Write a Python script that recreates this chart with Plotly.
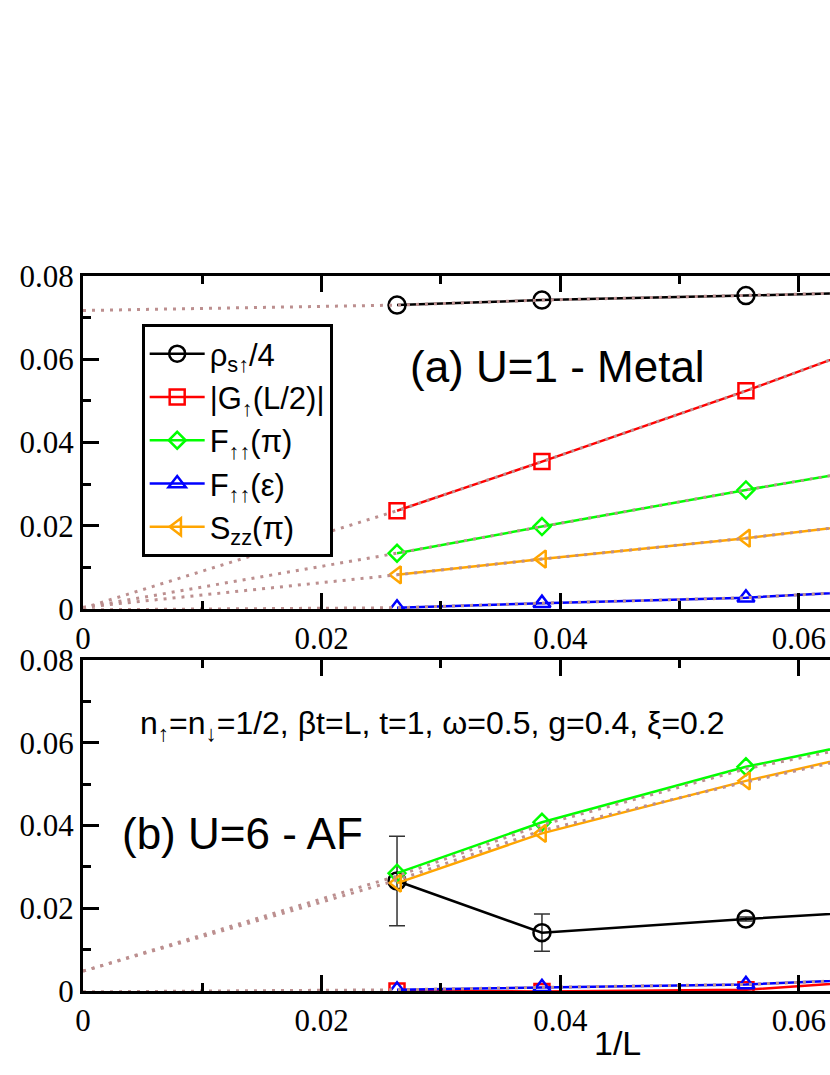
import plotly.graph_objects as go

# system sizes and 1/L
L = [38, 26, 18, 14]
inv_L = [1.0 / l for l in L]
fit_x = [0.0] + inv_L

# (a) U=1 - Metal
rho_a = [0.0730, 0.0742, 0.0753, 0.0764]
G_a = [0.0236, 0.0354, 0.0524, 0.0691]
Fpi_a = [0.0134, 0.0198, 0.0286, 0.0363]
Feps_a = [0.0003, 0.0014, 0.0027, 0.0052]
Szz_a = [0.0082, 0.0120, 0.0170, 0.0224]

fit_rho_a = [0.0717, 0.0730, 0.0742, 0.0753, 0.0764]
fit_G_a = [0.0002, 0.0236, 0.0354, 0.0524, 0.0691]
fit_Fpi_a = [0.0003, 0.0134, 0.0198, 0.0286, 0.0363]
fit_Szz_a = [0.0004, 0.0082, 0.0120, 0.0170, 0.0224]
fit_Feps_a = [-0.0002, 0.0003, 0.0014, 0.0027, 0.0052]

# (b) U=6 - AF
rho_b = [0.0266, 0.0141, 0.0174, 0.0201]
rho_b_err = [0.0108, 0.0045, 0.0005, 0.0005]
G_b = [0.0000, -0.0001, 0.0003, 0.0035]
Fpi_b = [0.0285, 0.0408, 0.0542, 0.0637]
Feps_b = [0.0003, 0.0009, 0.0016, 0.0034]
Szz_b = [0.0261, 0.0381, 0.0508, 0.0612]

fit_Fpi_b = [0.0048, 0.0278, 0.0402, 0.0537, 0.0630]
fit_Szz_b = [0.0048, 0.0268, 0.0388, 0.0505, 0.0608]
fit_Feps_b = [-0.0002, 0.0003, 0.0009, 0.0016, 0.0034]

names = ["ρ<sub>s↑</sub>/4", "|G<sub>↑</sub>(L/2)|", "F<sub>↑↑</sub>(π)",
         "F<sub>↑↑</sub>(ε)", "S<sub>zz</sub>(π)"]
colors = ["black", "#ff0000", "#00ff00", "#0000ff", "#ffa500"]
symbols = ["circle-open", "square-open", "diamond-open", "triangle-up-open", "triangle-left-open"]
sizes = [17, 15, 13, 15, 15]
FIT = "#bc8f8f"
SANS = "Liberation Sans"
SERIF = "Liberation Serif"

fig = go.Figure()

series_a = [rho_a, G_a, Fpi_a, Feps_a, Szz_a]
series_b = [rho_b, G_b, Fpi_b, Feps_b, Szz_b]

for i, ys in enumerate(series_a):
    fig.add_trace(go.Scatter(
        x=inv_L, y=ys, mode="lines+markers", name=names[i],
        legendgroup=str(i), xaxis="x", yaxis="y",
        line=dict(color=colors[i], width=2.5),
        marker=dict(symbol=symbols[i], size=sizes[i], color=colors[i],
                    line=dict(width=2.5, color=colors[i])),
    ))

for ys in [fit_rho_a, fit_G_a, fit_Fpi_a, fit_Szz_a, fit_Feps_a]:
    fig.add_trace(go.Scatter(
        x=fit_x, y=ys, mode="lines", showlegend=False, xaxis="x", yaxis="y",
        line=dict(color=FIT, width=3, dash="3px,6px"),
    ))

for i, ys in enumerate(series_b):
    err = dict(type="data", array=rho_b_err, color="#333333", thickness=1.5, width=8) if i == 0 else None
    fig.add_trace(go.Scatter(
        x=inv_L, y=ys, mode="lines+markers", showlegend=False,
        xaxis="x2", yaxis="y2", error_y=err,
        line=dict(color=colors[i], width=2.5),
        marker=dict(symbol=symbols[i], size=sizes[i], color=colors[i],
                    line=dict(width=2.5, color=colors[i])),
    ))

for ys in [fit_Fpi_b, fit_Szz_b, fit_Feps_b]:
    fig.add_trace(go.Scatter(
        x=fit_x, y=ys, mode="lines", showlegend=False, xaxis="x2", yaxis="y2",
        line=dict(color=FIT, width=3, dash="3px,6px"),
    ))

tickfont = dict(family=SERIF, size=31, color="black")
xax = dict(range=[0, 0.0626], domain=[0.1, 1.0], dtick=0.02, tick0=0,
           ticks="inside", ticklen=16, tickwidth=3, tickcolor="black",
           minor=dict(dtick=0.01, ticks="inside", ticklen=8, tickwidth=2.5, tickcolor="black"),
           showline=True, linewidth=3, linecolor="black", mirror="ticks",
           showgrid=False, zeroline=False, tickfont=tickfont, automargin=False)
yax = dict(range=[0, 0.08], dtick=0.02, tick0=0,
           ticks="inside", ticklen=16, tickwidth=3, tickcolor="black",
           minor=dict(dtick=0.01, ticks="inside", ticklen=8, tickwidth=2.5, tickcolor="black"),
           showline=True, linewidth=3, linecolor="black",
           showgrid=False, zeroline=False, tickfont=tickfont, automargin=False)


def note(text, x, y, size):
    return dict(text=text, x=x, y=y, xref="paper", yref="paper", xanchor="center",
                yanchor="middle", showarrow=False,
                font=dict(family=SANS, size=size, color="black"))


fig.update_layout(
    template="none",
    width=830, height=1075,
    margin=dict(l=0, r=0, t=0, b=0, autoexpand=False),
    paper_bgcolor="white", plot_bgcolor="white",
    font=dict(family=SANS, color="black"),
    xaxis=dict(xax, anchor="y"),
    yaxis=dict(yax, domain=[0.4335, 0.7433], anchor="x"),
    xaxis2=dict(xax, anchor="y2"),
    yaxis2=dict(yax, domain=[0.0781, 0.3860], anchor="x2"),
    legend=dict(x=0.1707, y=0.6986, xanchor="left", yanchor="top",
                bordercolor="black", borderwidth=3, bgcolor="white",
                font=dict(family=SANS, size=31, color="black"),
                tracegroupgap=0, itemwidth=55),
    annotations=[
        note("(a) U=1 - Metal", 557 / 830, 1 - 367 / 1075, 44),
        note("(b) U=6 - AF", 242 / 830, 1 - 833 / 1075, 44),
        note("n<sub>↑</sub>=n<sub>↓</sub>=1/2, βt=L, t=1, ω=0.5, g=0.4, ξ=0.2",
             432 / 830, 1 - 725 / 1075, 32),
        note("1/L", 617 / 830, 1 - 1043 / 1075, 34),
    ],
)

fig.write_html("out.html", config={"displayModeBar": False},
               post_script="document.body.style.margin='0px';")
